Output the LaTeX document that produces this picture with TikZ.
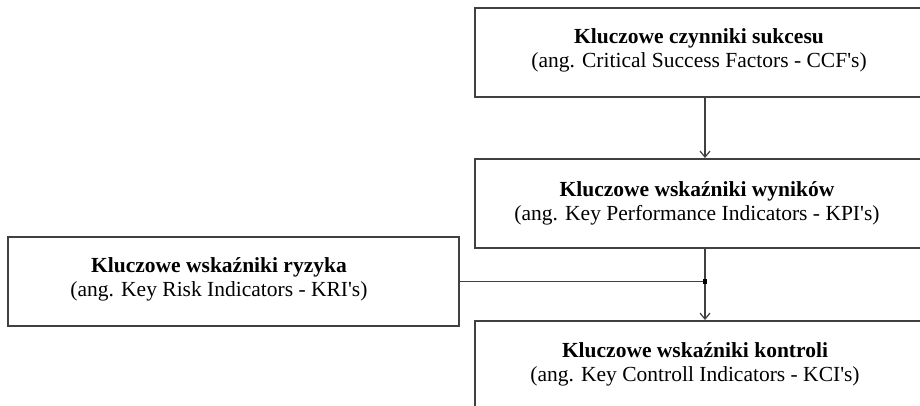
\documentclass[tikz,border=0pt]{standalone}
\usepackage{fontspec}
\setmainfont{Liberation Serif}
\usetikzlibrary{arrows.meta}
\definecolor{edge}{gray}{0.25}
\newcommand{\apos}{\textquotesingle}
\begin{document}
\begin{tikzpicture}[x=1pt,y=-1pt,
  box/.style={draw=edge, line width=2pt, rectangle, inner sep=0pt, anchor=north west,
    minimum height=89pt},
  widebox/.style={box, minimum width=460pt},
  caption/.style={align=center, inner sep=0pt, font=\fontsize{21.5}{24}\selectfont, text=black},
  conn/.style={draw=edge, line width=1.6pt},
  arrowconn/.style={conn, -{Straight Barb[length=6pt,width=10pt,line width=1.2pt]}}
]
\clip (0,0) rectangle (920,405);
\fill[white] (0,0) rectangle (920,405);

% boxes
\node[widebox] (ccf) at (474,7) {};
\node[widebox] (kpi) at (474,158) {};
\node[box, minimum width=451pt] (kri) at (7,236) {};
\node[widebox] (kci) at (474,320) {};

% box texts
\node[caption] (ccft) at (699,50) {\textbf{Kluczowe czynniki sukcesu}\\(ang. Critical Success Factors - CCF\apos s)};
\node[caption] (kpit) at (697,203) {\textbf{Kluczowe wskaźniki wyników}\\(ang. Key Performance Indicators - KPI\apos s)};
\node[caption] (krit) at (219,279) {\textbf{Kluczowe wskaźniki ryzyka}\\(ang. Key Risk Indicators - KRI\apos s)};
\node[caption] (kcit) at (695,364) {\textbf{Kluczowe wskaźniki kontroli}\\(ang. Key Controll Indicators - KCI\apos s)};

% connectors
\coordinate (j) at (kpi.south |- kri.east);
\draw[arrowconn] (ccf.south) -- (kpi.north);
\draw[conn] (kri.east) -- (j);
\draw[arrowconn] (kpi.south) -- (kci.north);
\node[fill=black, minimum size=4.5pt, inner sep=0pt] (dot) at (j) {};
\end{tikzpicture}
\end{document}
